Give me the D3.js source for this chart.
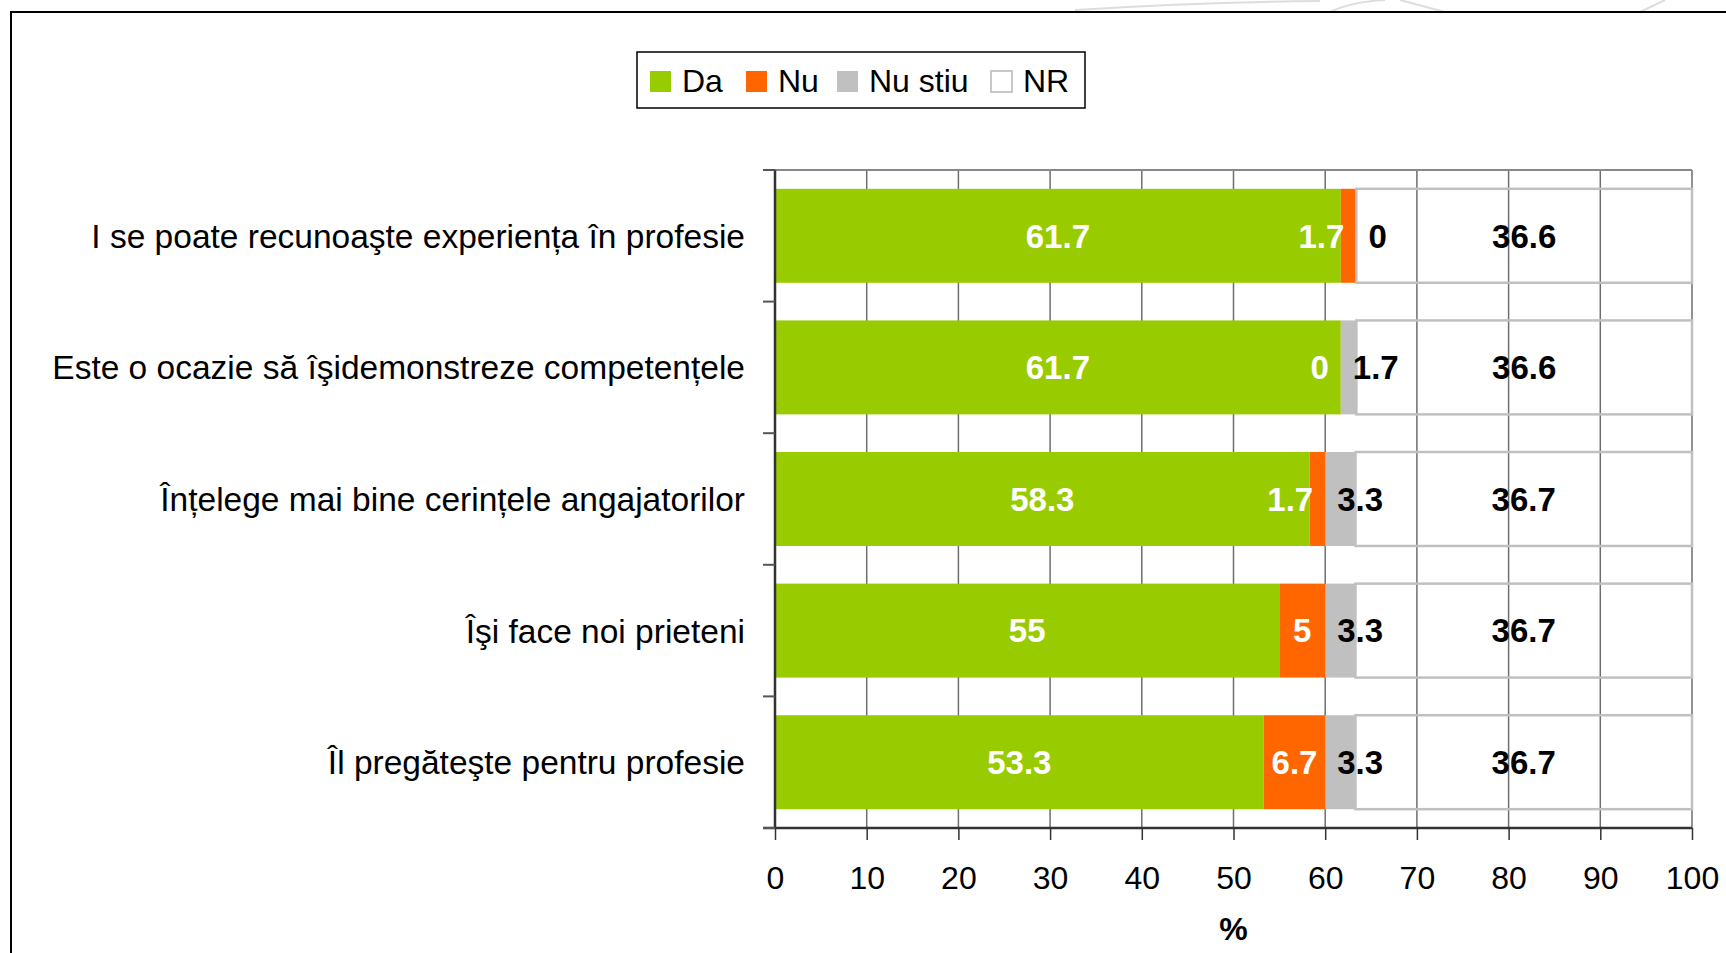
<!DOCTYPE html>
<html>
<head>
<meta charset="utf-8">
<script src="https://cdn.jsdelivr.net/npm/d3@7"></script>
<style>
  body { margin: 0; background: #fff; }
  svg text { font-family: "Liberation Sans", Arial, sans-serif; }
</style>
</head>
<body>
<div id="chart"></div>
<script>
// data
const categories = [
  'I se poate recunoaşte experiența în profesie',
  'Este o ocazie să îşidemonstreze competențele',
  'Înțelege mai bine cerințele angajatorilor',
  'Îşi face noi prieteni',
  'Îl pregăteşte pentru profesie'
]
const seriesNames = ['Da', 'Nu', 'Nu stiu', 'NR']
const da = [61.7, 61.7, 58.3, 55, 53.3]
const nu = [1.7, 0, 1.7, 5, 6.7]
const nuStiu = [0, 1.7, 3.3, 3.3, 3.3]
const nr = [36.6, 36.6, 36.7, 36.7, 36.7]
const xTicks = [0, 10, 20, 30, 40, 50, 60, 70, 80, 90, 100]

const colors = ['#99cc00', '#ff6600', '#c0c0c0', 'none']
const labelColors = ['#fff', '#fff', '#000', '#000']

const W = 1726, H = 953
const margin = { top: 170, left: 775, right: W - 1692, bottom: H - 828 }
const width = W - margin.left - margin.right
const height = H - margin.top - margin.bottom

const svg = d3.select('#chart').append('svg')
  .attr('width', W)
  .attr('height', H)

// faint decoration top right
const deco = svg.append('g').attr('stroke', '#ddd').attr('fill', 'none').attr('stroke-width', 2)
deco.append('path').attr('d', 'M1075,10 Q1200,2 1320,1')
deco.append('path').attr('d', 'M1330,12 Q1350,2 1385,0')
deco.append('path').attr('d', 'M1400,0 L1445,12')
deco.append('path').attr('d', 'M1640,12 L1665,0')

// outer frame
svg.append('rect')
  .attr('x', 11).attr('y', 12)
  .attr('width', W + 20).attr('height', H + 20)
  .attr('fill', 'none').attr('stroke', '#000').attr('stroke-width', 2)

const g = svg.append('g')
  .attr('transform', `translate(${margin.left},${margin.top})`)

const xs = d3.scaleLinear().domain([0, 100]).range([0, width])
const ys = d3.scaleBand().domain(categories).range([0, height])
  .paddingInner(0.286).paddingOuter(0.143)

// gridlines
g.append('g')
  .selectAll('line')
  .data(xTicks.slice(1))
  .join('line')
  .attr('x1', d => xs(d)).attr('x2', d => xs(d))
  .attr('y1', 0).attr('y2', height)
  .attr('stroke', '#6e6e6e').attr('stroke-width', 1.5)
g.append('line')
  .attr('x1', 0).attr('x2', width).attr('y1', 0).attr('y2', 0)
  .attr('stroke', '#888').attr('stroke-width', 2)

// stacked data
const rows = categories.map((c, i) => ({ cat: c, Da: da[i], Nu: nu[i], 'Nu stiu': nuStiu[i], NR: nr[i] }))
const stacked = d3.stack().keys(seriesNames)(rows)

stacked.forEach((layer, si) => {
  g.append('g')
    .selectAll('rect')
    .data(layer)
    .join('rect')
    .attr('x', d => xs(d[0]))
    .attr('y', d => ys(d.data.cat))
    .attr('width', d => xs(d[1]) - xs(d[0]))
    .attr('height', ys.bandwidth())
    .attr('fill', colors[si])
    .attr('stroke', si === 3 ? '#c0c0c0' : 'none')
    .attr('stroke-width', si === 3 ? 2.5 : 0)
})

// value labels
const fs = 33
stacked.forEach((layer, si) => {
  g.append('g')
    .selectAll('text')
    .data(layer)
    .join('text')
    .attr('y', d => ys(d.data.cat) + ys.bandwidth() / 2)
    .attr('dy', '0.36em')
    .attr('font-size', fs)
    .attr('font-weight', 'bold')
    .attr('fill', labelColors[si])
    .each(function (d) {
      const v = d[1] - d[0]
      const txt = String(+v.toFixed(1))
      const el = d3.select(this).text(txt)
      const tw = this.getComputedTextLength()
      const segW = xs(d[1]) - xs(d[0])
      if (segW >= tw + 6 || si === 0 || si === 3) {
        el.attr('x', (xs(d[0]) + xs(d[1])) / 2).attr('text-anchor', 'middle')
      } else if (si === 1) {
        el.attr('x', xs(d[1]) - 12).attr('text-anchor', 'end')
      } else {
        el.attr('x', xs(d[0]) + 12).attr('text-anchor', 'start')
      }
    })
})

// x axis
const xAxis = g.append('g')
  .attr('transform', `translate(0,${height})`)
  .call(d3.axisBottom(xs).tickValues(xTicks).tickSize(12).tickPadding(26).tickSizeOuter(0))
xAxis.select('.domain').attr('stroke', '#333').attr('stroke-width', 2.5)
  .attr('d', `M-12,0H${width}`)
xAxis.selectAll('.tick line').attr('stroke', '#333').attr('stroke-width', 1.5)
xAxis.selectAll('.tick text')
  .attr('font-size', 32).attr('fill', '#000')
  .attr('font-family', '"Liberation Sans", Arial, sans-serif')

g.append('text')
  .attr('x', width / 2).attr('y', height + 112)
  .attr('text-anchor', 'middle')
  .attr('font-size', 32).attr('font-weight', 'bold')
  .text('%')

// y axis
const bounds = categories.map(c => ys(c) - ys.step() * ys.paddingInner() / 2).concat([height])
const yAxis = g.append('g')
yAxis.append('line')
  .attr('x1', 0).attr('x2', 0).attr('y1', 0).attr('y2', height)
  .attr('stroke', '#333').attr('stroke-width', 2.5)
yAxis.selectAll('.ytick')
  .data(bounds)
  .join('line')
  .attr('class', 'ytick')
  .attr('x1', -12).attr('x2', 0)
  .attr('y1', d => d).attr('y2', d => d)
  .attr('stroke', '#555').attr('stroke-width', 2)

yAxis.selectAll('.ylabel')
  .data(categories)
  .join('text')
  .attr('class', 'ylabel')
  .attr('x', -30)
  .attr('y', d => ys(d) + ys.bandwidth() / 2)
  .attr('dy', '0.36em')
  .attr('text-anchor', 'end')
  .attr('font-size', 33.5)
  .attr('fill', '#000')
  .text(d => d)

// legend
const legend = svg.append('g').attr('transform', 'translate(637,52)')
legend.append('rect')
  .attr('width', 448).attr('height', 56)
  .attr('fill', '#fff').attr('stroke', '#000').attr('stroke-width', 1.5)
const legendX = [13, 109, 200, 354]
const items = legend.selectAll('.item')
  .data(seriesNames)
  .join('g')
  .attr('class', 'item')
  .attr('transform', (d, i) => `translate(${legendX[i]},19)`)
items.append('rect')
  .attr('width', 21).attr('height', 21)
  .attr('fill', (d, i) => i === 3 ? '#fff' : colors[i])
  .attr('stroke', (d, i) => i === 3 ? '#c8c8c8' : 'none')
  .attr('stroke-width', 2)
items.append('text')
  .attr('x', 32).attr('y', 9).attr('dy', '0.36em')
  .attr('font-size', 32)
  .text(d => d)
</script>
</body>
</html>
